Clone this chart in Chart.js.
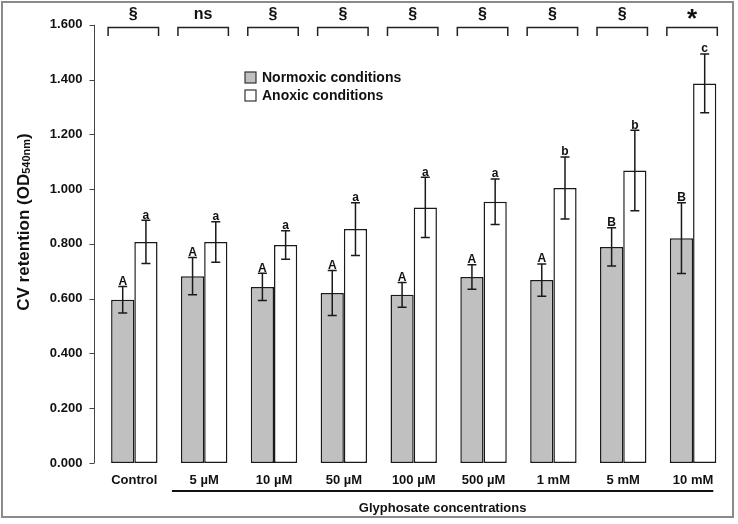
<!DOCTYPE html>
<html lang="en">
<head>
	<meta charset="UTF-8">
	<title>CV retention</title>
	<script src="https://cdn.jsdelivr.net/npm/chart.js"></script>
	<style>
		html, body { margin: 0; padding: 0; background: #fff; }
		#wrap { width: 738px; height: 524px; }
	</style>
</head>
<body>
	<div id="wrap">
		<canvas id="myChart" width="738" height="524"></canvas>
	</div>

	<script>
		// data
		const categories = ['Control', '5 µM', '10 µM', '50 µM', '100 µM', '500 µM', '1 mM', '5 mM', '10 mM'];
		const normoxic = [0.596, 0.682, 0.643, 0.621, 0.614, 0.679, 0.668, 0.789, 0.821];
		const normoxicErr = [0.048, 0.068, 0.050, 0.082, 0.045, 0.045, 0.059, 0.070, 0.129];
		const anoxic = [0.807, 0.807, 0.796, 0.854, 0.933, 0.954, 1.004, 1.068, 1.386];
		const anoxicErr = [0.079, 0.074, 0.052, 0.096, 0.110, 0.083, 0.113, 0.147, 0.107];
		const normoxicLetters = ['A', 'A', 'A', 'A', 'A', 'A', 'A', 'B', 'B'];
		const anoxicLetters = ['a', 'a', 'a', 'a', 'a', 'a', 'b', 'b', 'c'];
		const pairSymbols = ['§', 'ns', '§', '§', '§', '§', '§', '§', '*'];
		const yTicks = [0, 0.2, 0.4, 0.6, 0.8, 1.0, 1.2, 1.4, 1.6];

		const FONT = 'Liberation Sans, Arial, sans-serif';
		const INK = '#111';

		const extras = {
			id: 'extras',
			afterDatasetsDraw(chart) {
				const ctx = chart.ctx;
				const y = chart.scales.y;
				const x = chart.scales.x;
				const area = chart.chartArea;
				ctx.save();

				// error bars + letters
				const series = [
					{ vals: normoxic, err: normoxicErr, letters: normoxicLetters },
					{ vals: anoxic, err: anoxicErr, letters: anoxicLetters }
				];
				series.forEach((s, di) => {
					const meta = chart.getDatasetMeta(di);
					meta.data.forEach((bar, i) => {
						const cx = bar.x;
						const top = y.getPixelForValue(s.vals[i] + s.err[i]);
						const bot = y.getPixelForValue(s.vals[i] - s.err[i]);
						ctx.strokeStyle = '#1a1a1a';
						ctx.lineWidth = 1.5;
						ctx.beginPath();
						ctx.moveTo(cx, top); ctx.lineTo(cx, bot);
						ctx.moveTo(cx - 4.5, top); ctx.lineTo(cx + 4.5, top);
						ctx.moveTo(cx - 4.5, bot); ctx.lineTo(cx + 4.5, bot);
						ctx.stroke();
						ctx.fillStyle = INK;
						ctx.font = 'bold 12px ' + FONT;
						ctx.textAlign = 'center';
						ctx.textBaseline = 'bottom';
						ctx.fillText(s.letters[i], cx, top + 1);
					});
				});

				// brackets and symbols on top
				const m0 = chart.getDatasetMeta(0), m1 = chart.getDatasetMeta(1);
				categories.forEach((c, i) => {
					const l = m0.data[i].x - m0.data[i].width / 2 - 3;
					const r = m1.data[i].x + m1.data[i].width / 2 + 1;
					ctx.strokeStyle = '#222';
					ctx.lineWidth = 1.5;
					ctx.beginPath();
					ctx.moveTo(l, 36); ctx.lineTo(l, 27.5); ctx.lineTo(r, 27.5); ctx.lineTo(r, 36);
					ctx.stroke();
					ctx.fillStyle = INK;
					ctx.textAlign = 'center';
					ctx.textBaseline = 'middle';
					if (pairSymbols[i] === '*') {
						ctx.font = 'bold 26px ' + FONT;
						ctx.fillText('*', (l + r) / 2, 20);
					} else {
						ctx.font = 'bold 16px ' + FONT;
						ctx.fillText(pairSymbols[i], (l + r) / 2, 15);
					}
				});

				// y axis line and tick marks
				const ax = 94.5;
				ctx.strokeStyle = '#444';
				ctx.lineWidth = 1;
				ctx.beginPath();
				ctx.moveTo(ax, y.getPixelForValue(1.6)); ctx.lineTo(ax, y.getPixelForValue(0));
				yTicks.forEach(v => {
					const py = Math.round(y.getPixelForValue(v)) + 0.5;
					ctx.moveTo(ax - 5, py); ctx.lineTo(ax, py);
				});
				ctx.stroke();

				// y title with subscript
				ctx.save();
				ctx.translate(24, 222);
				ctx.rotate(-Math.PI / 2);
				ctx.fillStyle = INK;
				ctx.textBaseline = 'middle';
				ctx.textAlign = 'left';
				const t1 = 'CV retention (OD', t2 = '540nm', t3 = ')';
				ctx.font = 'bold 17px ' + FONT;
				const w1 = ctx.measureText(t1).width;
				const w3 = ctx.measureText(t3).width;
				ctx.font = 'bold 11px ' + FONT;
				const w2 = ctx.measureText(t2).width;
				let sx = -(w1 + w2 + w3) / 2;
				ctx.font = 'bold 17px ' + FONT;
				ctx.fillText(t1, sx, 0);
				ctx.font = 'bold 11px ' + FONT;
				ctx.fillText(t2, sx + w1, 3);
				ctx.font = 'bold 17px ' + FONT;
				ctx.fillText(t3, sx + w1 + w2, 0);
				ctx.restore();

				// legend
				const lg = [['Normoxic conditions', '#c0c0c0', 72], ['Anoxic conditions', '#ffffff', 90]];
				lg.forEach(([txt, col, ly]) => {
					ctx.fillStyle = col;
					ctx.fillRect(245, ly, 11, 11);
					ctx.strokeStyle = '#333';
					ctx.lineWidth = 1.2;
					ctx.strokeRect(245, ly, 11, 11);
					ctx.fillStyle = INK;
					ctx.font = 'bold 14px ' + FONT;
					ctx.textAlign = 'left';
					ctx.textBaseline = 'middle';
					ctx.fillText(txt, 262, ly + 6);
				});

				// group line under treatments + title
				const gl = m0.data[1].x - m0.data[1].width / 2 - 9;
				const gr = m1.data[8].x + m1.data[8].width / 2 - 3;
				ctx.strokeStyle = '#111';
				ctx.lineWidth = 2;
				ctx.beginPath();
				ctx.moveTo(gl, 491); ctx.lineTo(gr, 491);
				ctx.stroke();
				ctx.fillStyle = INK;
				ctx.font = 'bold 13px ' + FONT;
				ctx.textAlign = 'center';
				ctx.textBaseline = 'middle';
				ctx.fillText('Glyphosate concentrations', (gl + gr) / 2, 508);

				// outer frame
				ctx.strokeStyle = '#8a8a8a';
				ctx.lineWidth = 2;
				ctx.strokeRect(2, 2, 731, 515);
				ctx.restore();
			}
		};

		new Chart(document.getElementById('myChart'), {
			type: 'bar',
			data: {
				labels: categories,
				datasets: [{
					label: 'Normoxic conditions',
					data: normoxic,
					backgroundColor: '#c0c0c0',
					borderColor: '#1a1a1a',
					borderWidth: 1.5,
					borderSkipped: false
				}, {
					label: 'Anoxic conditions',
					data: anoxic,
					backgroundColor: '#ffffff',
					borderColor: '#1a1a1a',
					borderWidth: 1.5,
					borderSkipped: false
				}]
			},
			options: {
				responsive: false,
				animation: false,
				layout: { padding: { top: 15, right: 10, left: 0, bottom: 0 } },
				plugins: { legend: { display: false }, tooltip: { enabled: false } },
				datasets: { bar: { categoryPercentage: 0.665, barPercentage: 1.0 } },
				scales: {
					x: {
						grid: { display: false, drawTicks: false },
						border: { display: false },
						ticks: { color: INK, font: { family: FONT, size: 13, weight: 'bold' }, padding: 10 },
						afterFit: s => { s.height = 61; }
					},
					y: {
						min: 0,
						max: 1.6,
						afterBuildTicks: s => { s.ticks = yTicks.map(v => ({ value: v })); },
						grid: { display: false, drawTicks: false },
						border: { display: false },
						ticks: {
							color: INK,
							font: { family: FONT, size: 13, weight: 'bold' },
							padding: 17,
							callback: v => Number(v).toFixed(3)
						},
						afterFit: s => { s.width = 99.4; }
					}
				}
			},
			plugins: [extras]
		});
	</script>
</body>
</html>
